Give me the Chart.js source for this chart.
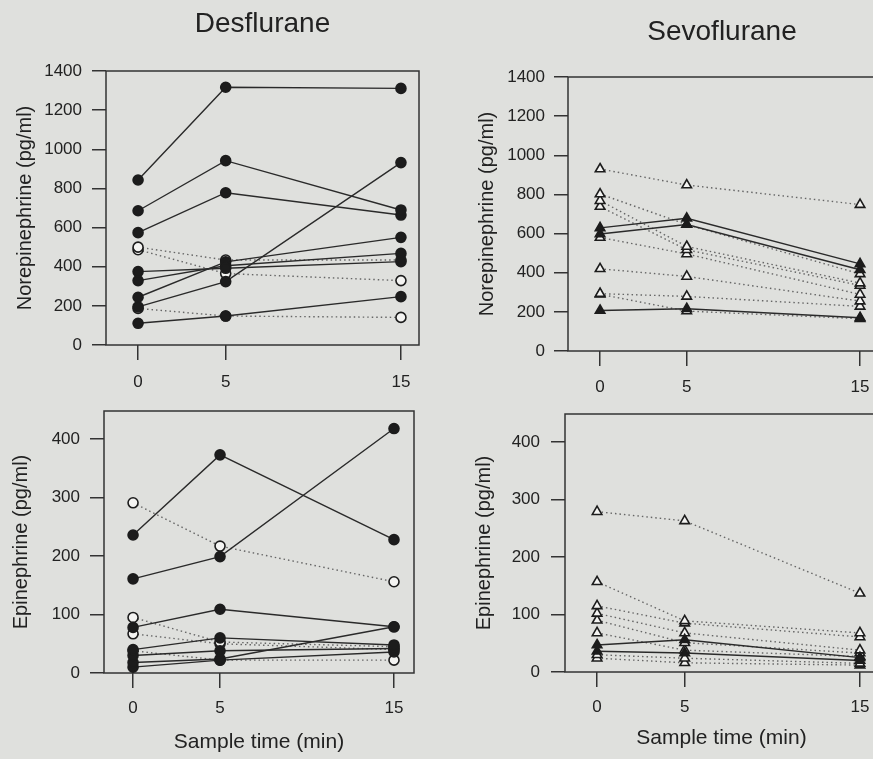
<!DOCTYPE html>
<html>
<head>
<meta charset="utf-8">
<script src="https://cdn.jsdelivr.net/npm/chart.js@4.4.1/dist/chart.umd.min.js"></script>
<style>
  html, body { margin: 0; padding: 0; width: 873px; height: 759px; overflow: hidden; background: #dfe0dd; }
  canvas { position: absolute; }
</style>
</head>
<body>
<canvas id="desNe" width="440" height="400" style="left:0;top:0"></canvas>
<canvas id="sevoNe" width="460" height="400" style="left:440px;top:0"></canvas>
<canvas id="desEpi" width="440" height="374" style="left:0;top:385px"></canvas>
<canvas id="sevoEpi" width="460" height="374" style="left:440px;top:385px"></canvas>
<script>
// sample times (min)
const times = [0, 5, 15];
const neTicks = [0, 200, 400, 600, 800, 1000, 1200, 1400];
const epiTicks = [0, 100, 200, 300, 400];

// Desflurane, norepinephrine (pg/ml)
const desNeFilled = [
  [843, 1317, 1311],
  [686, 942, 690],
  [574, 778, 664],
  [375, 392, 426],
  [329, 405, 468],
  [244, 425, 550],
  [195, 324, 932],
  [111, 148, 247],
];
const desNeOpen = [
  [500, 434, 434],
  [487, 365, 329],
  [187, 148, 141],
];

// Sevoflurane, norepinephrine (pg/ml)
const sevoNeFilled = [
  [629, 678, 445],
  [598, 646, 415],
  [207, 216, 170],
];
const sevoNeOpen = [
  [930, 848, 748],
  [802, 646, 394],
  [768, 534, 347],
  [738, 517, 335],
  [580, 496, 289],
  [420, 381, 255],
  [293, 279, 228],
  [290, 204, 165],
];

// Desflurane, epinephrine (pg/ml)
const desEpiFilled = [
  [236, 373, 228],
  [161, 199, 418],
  [78, 109, 79],
  [40, 60, 48],
  [30, 38, 42],
  [18, 24, 79],
  [10, 22, 36],
];
const desEpiOpen = [
  [291, 217, 156],
  [95, 53, 45],
  [67, 50, 40],
  [38, 22, 22],
];

// Sevoflurane, epinephrine (pg/ml)
const sevoEpiFilled = [
  [47, 56, 25],
  [36, 33, 20],
];
const sevoEpiOpen = [
  [279, 263, 137],
  [157, 89, 68],
  [115, 85, 61],
  [102, 68, 38],
  [90, 51, 33],
  [68, 38, 27],
  [30, 24, 15],
  [24, 16, 12],
];

Chart.defaults.font.family = '"Liberation Sans", Arial, Helvetica, sans-serif';
Chart.defaults.color = '#222';

const INK = '#222';

// box round the plot area
const frameBox = {
  id: 'frameBox',
  beforeDatasetsDraw(chart) {
    const a = chart.chartArea;
    const ctx = chart.ctx;
    ctx.save();
    ctx.strokeStyle = '#333';
    ctx.lineWidth = 1.5;
    ctx.strokeRect(a.left, a.top, a.right - a.left, a.bottom - a.top);
    ctx.restore();
  }
};

function lineSets(rows, filled, style) {
  return rows.map(vals => ({
    data: vals.map((v, i) => ({ x: times[i], y: v })),
    borderColor: filled ? '#2a2a2a' : '#666',
    borderWidth: 1.4,
    borderDash: filled ? [] : [1.5, 3],
    pointStyle: style,
    pointRadius: style === 'triangle' ? 5.5 : 5,
    pointBackgroundColor: filled ? '#1c1c1c' : '#f4f4f2',
    pointBorderColor: '#1c1c1c',
    pointBorderWidth: 1.6,
    fill: false,
    tension: 0
  }));
}

function makePanel(id, p) {
  const datasets = lineSets(p.filled, true, p.style).concat(lineSets(p.open, false, p.style));
  new Chart(document.getElementById(id), {
    type: 'line',
    data: { datasets },
    options: {
      responsive: false,
      animation: false,
      layout: { padding: { left: 0, right: p.padRight, top: p.padTop, bottom: 0 } },
      plugins: {
        legend: { display: false },
        tooltip: { enabled: false },
        title: {
          display: !!p.title,
          text: p.title || '',
          fullSize: false,
          font: { size: 28, weight: 'normal' },
          color: INK,
          padding: p.titlePad || 0
        }
      },
      scales: {
        x: {
          type: 'linear',
          min: p.xMin,
          max: p.xMax,
          afterBuildTicks: s => { s.ticks = times.map(v => ({ value: v })); },
          afterFit: s => { s.height = p.xHeight; },
          grid: { drawOnChartArea: false, drawTicks: true, tickLength: 15, color: '#333', lineWidth: 1.5 },
          border: { display: false },
          ticks: { font: { size: 17 }, color: INK, padding: p.xTickPad, maxRotation: 0, callback: v => String(v) },
          title: {
            display: !!p.xTitle,
            text: p.xTitle || '',
            font: { size: 21 },
            color: INK,
            padding: { top: 0, bottom: p.xTitlePad || 0 }
          }
        },
        y: {
          min: 0,
          max: p.yMax,
          afterBuildTicks: s => { s.ticks = p.yTicks.map(v => ({ value: v })); },
          afterFit: s => { s.width = p.yWidth; },
          grid: { drawOnChartArea: false, drawTicks: true, tickLength: 14, color: '#333', lineWidth: 1.5 },
          border: { display: false },
          ticks: { font: { size: 17 }, color: INK, padding: p.yTickPad, callback: v => String(v) },
          title: {
            display: true,
            text: p.yTitle,
            font: { size: 20 },
            color: INK,
            padding: { top: p.yTitlePad, bottom: 0 }
          }
        }
      }
    },
    plugins: [frameBox]
  });
}

makePanel('desNe', {
  filled: desNeFilled, open: desNeOpen, style: 'circle',
  title: 'Desflurane', titlePad: { top: 7, bottom: 30.4 },
  padTop: 0, padRight: 21,
  xMin: -1.83, xMax: 16.03, xHeight: 55, xTickPad: 12,
  yMax: 1400, yTicks: neTicks, yWidth: 106, yTickPad: 10,
  yTitle: 'Norepinephrine (pg/ml)', yTitlePad: 13
});

makePanel('sevoNe', {
  filled: sevoNeFilled, open: sevoNeOpen, style: 'triangle',
  title: 'Sevoflurane', titlePad: { top: 15, bottom: 28.4 },
  padTop: 0, padRight: 24,
  xMin: -1.85, xMax: 15.92, xHeight: 49, xTickPad: 11,
  yMax: 1400, yTicks: neTicks, yWidth: 128, yTickPad: 9,
  yTitle: 'Norepinephrine (pg/ml)', yTitlePad: 35
});

makePanel('desEpi', {
  filled: desEpiFilled, open: desEpiOpen, style: 'circle',
  padTop: 26, padRight: 26,
  xMin: -1.67, xMax: 16.15, xHeight: 86, xTickPad: 10,
  xTitle: 'Sample time (min)', xTitlePad: 4,
  yMax: 448, yTicks: epiTicks, yWidth: 104, yTickPad: 10,
  yTitle: 'Epinephrine (pg/ml)', yTitlePad: 9
});

makePanel('sevoEpi', {
  filled: sevoEpiFilled, open: sevoEpiOpen, style: 'triangle',
  padTop: 29, padRight: 22,
  xMin: -1.83, xMax: 16.03, xHeight: 87, xTickPad: 10,
  xTitle: 'Sample time (min)', xTitlePad: 8,
  yMax: 449, yTicks: epiTicks, yWidth: 125, yTickPad: 11,
  yTitle: 'Epinephrine (pg/ml)', yTitlePad: 32
});
</script>
</body>
</html>
